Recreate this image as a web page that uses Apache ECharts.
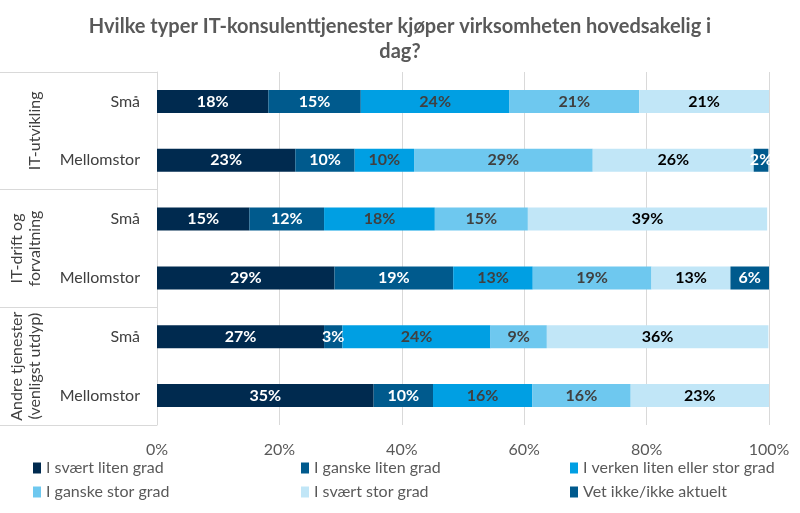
<!DOCTYPE html>
<html>
<head>
<meta charset="utf-8">
<script src="https://cdn.jsdelivr.net/npm/echarts@6/dist/echarts.min.js"></script>
<style>html,body{margin:0;padding:0;background:#fff}#c{width:800px;height:513px}</style>
</head>
<body>
<div id="c"></div>
<script>
const titleText = 'Hvilke typer IT-konsulenttjenester kjøper virksomheten hovedsakelig i\ndag?';
const categories = ['Små', 'Mellomstor', 'Små', 'Mellomstor', 'Små', 'Mellomstor'];
const groups = ['IT-utvikling', 'IT-drift og\nforvaltning', 'Andre tjenester\n(venligst utdyp)'];
const seriesNames = ['I svært liten grad', 'I ganske liten grad', 'I verken liten eller stor grad', 'I ganske stor grad', 'I svært stor grad', 'Vet ikke/ikke aktuelt'];
const svaertLiten   = [18.2, 22.6, 15.1, 29.0, 27.3, 35.4];
const ganskeLiten   = [15.1, 9.7, 12.2, 19.4, 3.0, 9.7];
const verken        = [24.3, 9.7, 18.1, 13.0, 24.2, 16.2];
const ganskeStor    = [21.2, 29.2, 15.2, 19.4, 9.2, 16.1];
const svaertStor    = [21.2, 26.3, 39.1, 12.9, 36.2, 22.6];
const vetIkke       = [0, 2.4, 0, 6.3, 0, 0];
const xTicks = [0, 20, 40, 60, 80, 100];

const values = [svaertLiten, ganskeLiten, verken, ganskeStor, svaertStor, vetIkke];
const colors = ['#002A4F', '#005A8D', '#009FE3', '#6EC8EF', '#C1E6F7', '#005A8D'];
const labelColors = ['#ffffff', '#ffffff', '#404040', '#404040', '#000000', '#ffffff'];
const FONT = 'Lato';

const chart = echarts.init(document.getElementById('c'), null, {renderer: 'canvas'});

const series = values.map((arr, i) => ({
  name: seriesNames[i],
  type: 'bar',
  stack: 'total',
  barWidth: 23,
  yAxisIndex: 0,
  itemStyle: {color: colors[i]},
  label: {
    show: true,
    position: 'inside',
    color: labelColors[i],
    fontFamily: FONT,
    fontWeight: 'bold',
    fontSize: 16,
    formatter: p => p.value > 0 ? Math.round(p.value) + '%' : ''
  },
  data: arr
}));

const legendStyle = {
  orient: 'vertical',
  icon: 'rect',
  itemWidth: 8,
  itemHeight: 11,
  itemGap: 8,
  top: 455,
  textStyle: {fontFamily: FONT, fontSize: 16, color: '#595959'}
};

chart.setOption({
  animation: false,
  color: colors,
  title: {
    text: titleText,
    left: 'center',
    top: 9,
    textStyle: {fontFamily: FONT, fontWeight: 'bold', fontSize: 20, color: '#595959', lineHeight: 25}
  },
  legend: [
    Object.assign({}, legendStyle, {left: 28, data: [seriesNames[0], seriesNames[3]]}),
    Object.assign({}, legendStyle, {left: 296, data: [seriesNames[1], seriesNames[4]]}),
    Object.assign({}, legendStyle, {left: 565, data: [seriesNames[2], seriesNames[5]]})
  ],
  grid: {left: 157, right: 31, top: 72, bottom: 88, containLabel: false},
  xAxis: {
    type: 'value',
    min: xTicks[0],
    max: xTicks[xTicks.length - 1],
    interval: 20,
    axisLine: {show: false},
    axisTick: {show: false},
    splitLine: {lineStyle: {color: '#d9d9d9', width: 1}},
    axisLabel: {formatter: '{value}%', fontFamily: FONT, fontSize: 16, color: '#595959', margin: 17}
  },
  yAxis: [
    {
      type: 'category',
      inverse: true,
      data: categories,
      axisLine: {show: true, lineStyle: {color: '#d9d9d9'}},
      axisTick: {show: false},
      axisLabel: {interval: 0, fontFamily: FONT, fontSize: 16, color: '#404040', margin: 17}
    },
    {
      type: 'category',
      inverse: true,
      position: 'left',
      data: groups,
      axisLine: {show: false},
      axisTick: {show: true, interval: 0, length: 157, lineStyle: {color: '#d9d9d9'}},
      axisLabel: {interval: 0, hideOverlap: false, rotate: 90, fontFamily: FONT, fontSize: 16, color: '#404040', margin: 113, lineHeight: 18}
    }
  ],
  series: series
});
</script>
</body>
</html>
